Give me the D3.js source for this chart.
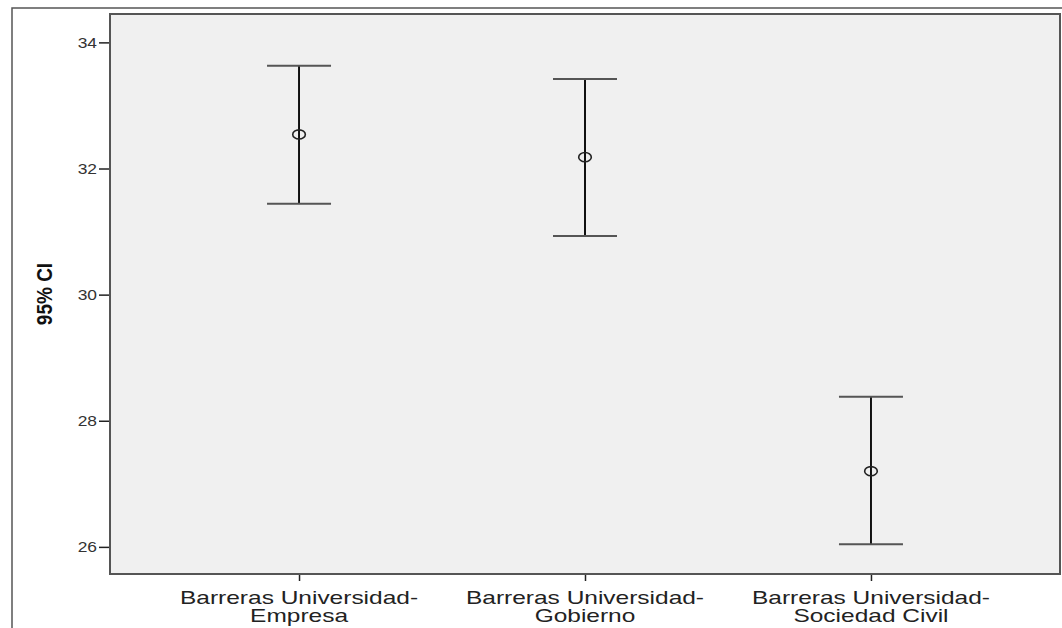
<!DOCTYPE html>
<html>
<head>
<meta charset="utf-8">
<script src="https://cdn.jsdelivr.net/npm/d3@7"></script>
<style>
  html, body { margin: 0; padding: 0; background: #ffffff; }
  svg { display: block; }
  text { font-family: "Liberation Sans", Arial, sans-serif; }
</style>
</head>
<body>
<svg id="chart" width="1062" height="628"></svg>
<script>
// Barrier groups (label lines) and their 95% confidence intervals
const categories = [
  ["Barreras Universidad-", "Empresa"],
  ["Barreras Universidad-", "Gobierno"],
  ["Barreras Universidad-", "Sociedad Civil"]
];
const means = [32.54, 32.18, 27.20];
const lower = [31.44, 30.93, 26.04];
const upper = [33.63, 33.42, 28.38];
const yTicks = [26, 28, 30, 32, 34];
const yTitle = "95% CI";

const svg = d3.select("#chart");
const plot = { left: 110, top: 14, right: 1060, bottom: 574 };

const keys = categories.map(c => c.join(" "));
const x = d3.scalePoint().domain(keys).range([plot.left, plot.right]).padding(0.661);
const y = d3.scaleLinear().domain([25.57, 34.45]).range([plot.bottom, plot.top]);

// outer chart frame
svg.append("rect")
  .attr("x", 12).attr("y", 8).attr("width", 1080).attr("height", 640)
  .attr("fill", "#ffffff").attr("stroke", "#555555").attr("stroke-width", 1.5);

// plot background
svg.append("rect")
  .attr("x", plot.left).attr("y", plot.top)
  .attr("width", plot.right - plot.left).attr("height", plot.bottom - plot.top)
  .attr("fill", "#f0f0f0");

// y axis
const yAxis = svg.append("g")
  .attr("transform", `translate(${plot.left},0)`)
  .call(d3.axisLeft(y).tickValues(yTicks).tickSize(11).tickPadding(2).tickFormat(d3.format("d")));
yAxis.select(".domain").remove();
yAxis.selectAll(".tick line").attr("stroke", "#222").attr("stroke-width", 1.5);
yAxis.selectAll(".tick text")
  .attr("x", null)
  .attr("transform", `translate(-13,0) scale(1.2,1)`)
  .attr("font-size", 14.5)
  .attr("font-family", "'Liberation Sans', Arial, sans-serif")
  .attr("fill", "#333");

// x axis ticks
const xAxis = svg.append("g")
  .attr("transform", `translate(0,${plot.bottom})`)
  .call(d3.axisBottom(x).tickSize(7).tickFormat(""));
xAxis.select(".domain").remove();
xAxis.selectAll(".tick line").attr("stroke", "#222").attr("stroke-width", 1.5);

// category labels, two lines each
const lbl = svg.append("g").selectAll("g")
  .data(categories)
  .join("g")
  .attr("transform", (d, i) => `translate(${x(keys[i])},0) scale(1.4,1)`);
lbl.selectAll("text")
  .data(d => d)
  .join("text")
  .attr("x", 0)
  .attr("y", (d, j) => 604 + j * 18)
  .attr("text-anchor", "middle")
  .attr("font-size", 17.5)
  .attr("fill", "#222")
  .text(d => d);

// y axis title
svg.append("text")
  .attr("transform", `translate(52,294) rotate(-90) scale(1,1.15)`)
  .attr("text-anchor", "middle")
  .attr("font-size", 19)
  .attr("font-weight", "bold")
  .attr("fill", "#111")
  .text(yTitle);

// plot border
svg.append("rect")
  .attr("x", plot.left).attr("y", plot.top)
  .attr("width", plot.right - plot.left).attr("height", plot.bottom - plot.top)
  .attr("fill", "none").attr("stroke", "#555555").attr("stroke-width", 2);

// error bars
const bars = svg.append("g").selectAll("g")
  .data(keys.map((k, i) => ({ k, m: means[i], lo: lower[i], hi: upper[i] })))
  .join("g");
const capHalf = 32;
bars.append("line")
  .attr("x1", d => x(d.k)).attr("x2", d => x(d.k))
  .attr("y1", d => y(d.hi)).attr("y2", d => y(d.lo))
  .attr("stroke", "#111").attr("stroke-width", 2);
bars.append("line")
  .attr("x1", d => x(d.k) - capHalf).attr("x2", d => x(d.k) + capHalf)
  .attr("y1", d => y(d.hi)).attr("y2", d => y(d.hi))
  .attr("stroke", "#555").attr("stroke-width", 2);
bars.append("line")
  .attr("x1", d => x(d.k) - capHalf).attr("x2", d => x(d.k) + capHalf)
  .attr("y1", d => y(d.lo)).attr("y2", d => y(d.lo))
  .attr("stroke", "#555").attr("stroke-width", 2);
bars.append("ellipse")
  .attr("cx", d => x(d.k)).attr("cy", d => y(d.m))
  .attr("rx", 6.3).attr("ry", 4.6)
  .attr("fill", "none").attr("stroke", "#222").attr("stroke-width", 1.6);
</script>
</body>
</html>
